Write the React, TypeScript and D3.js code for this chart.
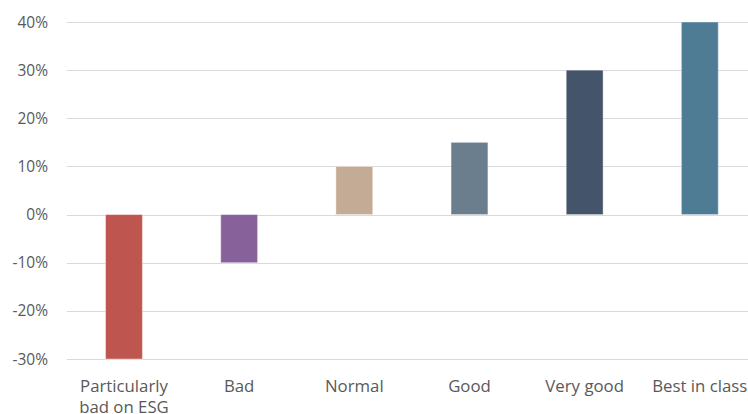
import React from "react";
import * as d3 from "d3";

const categories = ["Particularly\nbad on ESG", "Bad", "Normal", "Good", "Very good", "Best in class"];
const values = [-0.3, -0.1, 0.1, 0.15, 0.3, 0.4];
const colors = ["#be554f", "#87619a", "#c4ab96", "#6b7e8e", "#44546a", "#4e7c95"];
const ticks = [-0.3, -0.2, -0.1, 0, 0.1, 0.2, 0.3, 0.4];

const W = 748;
const H = 414;

export default function App() {
  const x = d3.scaleBand<string>().domain(categories).range([66.4, 757.4]).paddingInner(0.68).paddingOuter(0.34);
  const y = d3.scaleLinear().domain([-0.3, 0.4]).range([359, 22]);
  const fmt = (t: number) => d3.format(".0%")(t).replace("\u2212", "-");
  const font = "Open Sans, sans-serif";
  return (
    <svg width={W} height={H} style={{ position: "absolute", left: 0, top: 0, background: "#fff" }}>
      {ticks.map((t) => (
        <g key={t}>
          <line x1={67} x2={W} y1={Math.round(y(t)) + 0.5} y2={Math.round(y(t)) + 0.5} stroke="#d9d9d9" strokeWidth={1} />
          <text x={48} y={y(t)} dy="0.36em" textAnchor="end" fontFamily={font} fontSize={15.5} fill="#595959">
            {fmt(t)}
          </text>
        </g>
      ))}
      {categories.map((c, i) => {
        const v = values[i];
        const y0 = y(0);
        const y1 = y(v);
        return (
          <rect
            key={c}
            x={x(c)}
            width={x.bandwidth()}
            y={Math.min(y0, y1)}
            height={Math.abs(y1 - y0)}
            fill={colors[i]}
            stroke="#ffffff"
            strokeOpacity={0.4}
            strokeWidth={1}
          />
        );
      })}
      {categories.map((c) => {
        const lines = c.split("\n");
        const cx = (x(c) as number) + x.bandwidth() / 2;
        return (
          <text key={c} x={cx} y={391.5} textAnchor="middle" fontFamily={font} fontSize={16.8} fill="#595959">
            {lines.map((l, j) => (
              <tspan key={j} x={cx} dy={j === 0 ? 0 : 21.5}>
                {l}
              </tspan>
            ))}
          </text>
        );
      })}
    </svg>
  );
}
